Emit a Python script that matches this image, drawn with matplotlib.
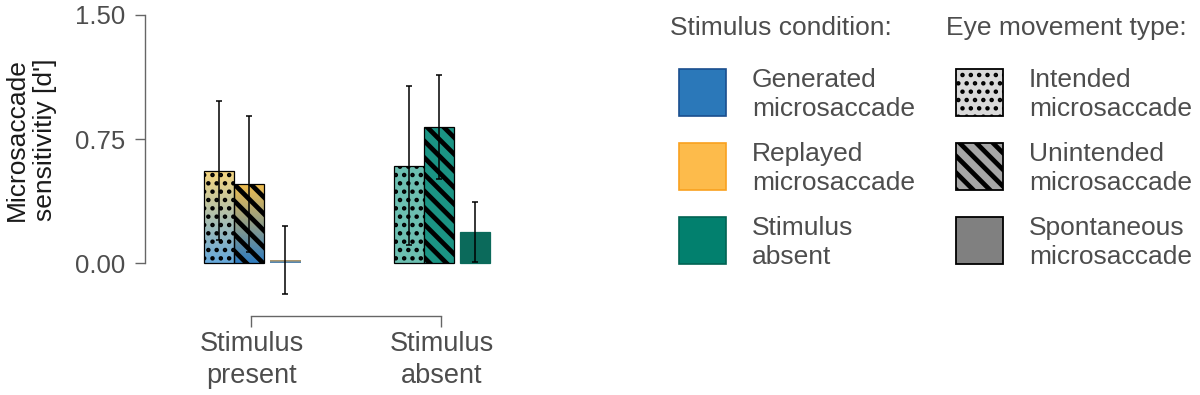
import matplotlib.pyplot as plt
import numpy as np
from matplotlib.colors import LinearSegmentedColormap
from matplotlib.patches import Rectangle

plt.rcParams["font.family"] = ["Liberation Sans", "DejaVu Sans"]

# --- data ---------------------------------------------------------------
conditions = ["Stimulus\npresent", "Stimulus\nabsent"]
movement_types = ["Intended", "Unintended", "Spontaneous"]

present_values = [0.56, 0.48, 0.02]
present_err = [0.42, 0.41, 0.205]
absent_values = [0.59, 0.825, 0.19]
absent_err = [0.48, 0.315, 0.18]

yticks = [0.0, 0.75, 1.5]

condition_labels = ["Generated\nmicrosaccade", "Replayed\nmicrosaccade", "Stimulus\nabsent"]
condition_colors = ["#2b78b9", "#fdbb4b", "#02806e"]
condition_edges = ["#1a4e8e", "#f9a11f", "#016353"]

movement_labels = ["Intended\nmicrosaccade", "Unintended\nmicrosaccade", "Spontaneous\nmicrosaccade"]
movement_colors = ["#dadada", "#a6a6a6", "#808080"]
movement_hatches = ["..", "\\\\", ""]

# present bars: gradient yellow (replayed) on top, blue (generated) below
present_top = ["#f7d67e", "#f3be4c", "#f0a53c"]
present_bottom = ["#66a9dc", "#2f7cc0", "#3d82c2"]
absent_colors = ["#6cbfb1", "#1b9484", "#0b6a5b"]

# --- layout -------------------------------------------------------------
W, H = 1200, 395
offsets = [-0.171, -0.013, 0.174]
bar_w = 0.158
hatch_lw = [2.0, 3.4, 1.0]
text_gray = "#4d4d4d"
axis_gray = "#666666"

fig = plt.figure(figsize=(W / 100, H / 100), dpi=100)
ax = fig.add_axes([145 / W, (H - 316) / H, 355 / W, 301 / H])


def styled_bar(x, h, face, hatch, lw_hatch, edge):
    bar = ax.bar(x, h, width=bar_w, color=face, edgecolor=edge, linewidth=0.9,
                 hatch=hatch if hatch else None, zorder=2)[0]
    if hasattr(bar, "set_hatch_linewidth"):
        bar.set_hatch_linewidth(lw_hatch)
    return bar


for i in range(3):
    # stimulus present: gradient fill under the hatch
    x = 0 + offsets[i]
    edge = "black" if movement_hatches[i] else "none"
    with plt.rc_context({"hatch.linewidth": hatch_lw[i]}):
        bar = styled_bar(x, present_values[i], "none", movement_hatches[i], hatch_lw[i], edge)
    cmap = LinearSegmentedColormap.from_list("g", [present_bottom[i], present_top[i]])
    grad = np.linspace(0, 1, 256).reshape(-1, 1)
    im = ax.imshow(grad, cmap=cmap, origin="lower", aspect="auto", interpolation="bilinear",
                   extent=(x - bar_w / 2, x + bar_w / 2, 0, present_values[i]), zorder=1)
    im.set_clip_path(bar)
    ax.errorbar(x, present_values[i], yerr=present_err[i], color="black", lw=1.1,
                capsize=2.4, capthick=1.1, zorder=4)

    # stimulus absent
    x = 1 + offsets[i]
    with plt.rc_context({"hatch.linewidth": hatch_lw[i]}):
        styled_bar(x, absent_values[i], absent_colors[i], movement_hatches[i], hatch_lw[i],
                   edge if movement_hatches[i] else absent_colors[i])
    ax.errorbar(x, absent_values[i], yerr=absent_err[i], color="black", lw=1.1,
                capsize=2.4, capthick=1.1, zorder=4)

ax.set_xlim(-0.5605, 1.308)
ax.set_ylim(-0.317, 1.5)

for side in ["top", "right"]:
    ax.spines[side].set_visible(False)
ax.spines["left"].set_bounds(0, 1.5)
ax.spines["bottom"].set_bounds(0, 1)
for side in ["left", "bottom"]:
    ax.spines[side].set_color(axis_gray)
    ax.spines[side].set_linewidth(1.0)

ax.set_yticks(yticks)
ax.set_yticklabels([f"{v:.2f}" for v in yticks])
ax.set_xticks([0, 1])
ax.set_xticklabels(conditions)
ax.tick_params(axis="y", length=7.2, width=1.0, color=axis_gray, pad=7,
               labelsize=18.5, labelcolor=text_gray)
ax.tick_params(axis="x", length=8, width=1.0, color=axis_gray, pad=3,
               labelsize=19.5, labelcolor=text_gray)
for t in ax.get_xticklabels():
    t.set_linespacing(1.3)

fig.text(31 / W, 1 - 140 / H, "Microsaccade\nsensitivitiy [d']", rotation=90,
         ha="center", va="center", fontsize=19, color="#1a1a1a", linespacing=1.2)

# --- legends ------------------------------------------------------------
def px(x, y):
    return x / W, 1 - y / H


fig.text(*px(670, 35), "Stimulus condition:", fontsize=19, color=text_gray, va="baseline")
fig.text(*px(946, 35), "Eye movement type:", fontsize=19, color=text_gray, va="baseline")

for k in range(3):
    top = 69 + 74 * k
    # stimulus condition
    fig.add_artist(Rectangle(px(679, top + 47), 47 / W, 47 / H, transform=fig.transFigure,
                             facecolor=condition_colors[k], edgecolor=condition_edges[k],
                             linewidth=1.2))
    for j, line in enumerate(condition_labels[k].split("\n")):
        fig.text(*px(752, top + 18 + 28.5 * j), line, fontsize=19, color=text_gray,
                 va="baseline")
    # eye movement type
    with plt.rc_context({"hatch.linewidth": hatch_lw[k]}):
        p = Rectangle(px(956, top + 47), 47 / W, 47 / H, transform=fig.transFigure,
                      facecolor=movement_colors[k], edgecolor="black", linewidth=1.3,
                      hatch=movement_hatches[k] if movement_hatches[k] else None)
    if hasattr(p, "set_hatch_linewidth"):
        p.set_hatch_linewidth(hatch_lw[k])
    fig.add_artist(p)
    for j, line in enumerate(movement_labels[k].split("\n")):
        fig.text(*px(1029, top + 18 + 28.5 * j), line, fontsize=19, color=text_gray,
                 va="baseline")

fig.savefig("out.png", dpi=100)
